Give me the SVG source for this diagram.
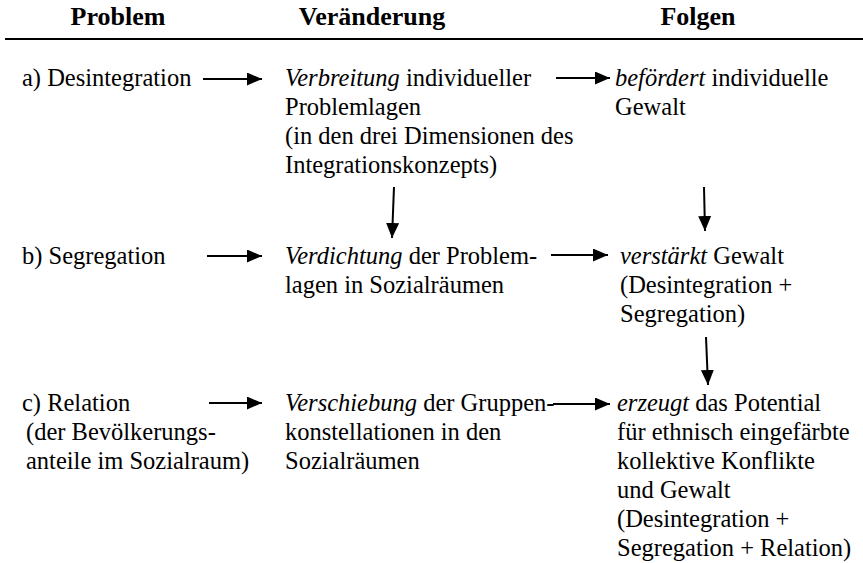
<svg xmlns="http://www.w3.org/2000/svg" width="863" height="563" viewBox="0 0 863 563">
<style>
text{font-family:"Liberation Serif","Times New Roman",serif;font-size:24.5px;fill:#000}
.h{font-weight:bold;font-size:26px;text-anchor:middle}
.i{font-style:italic}
.c line{stroke:#000;stroke-width:2;marker-end:url(#ah)}
</style>
<defs>
<marker id="ah" markerUnits="userSpaceOnUse" markerWidth="16" markerHeight="14" refX="15" refY="6.5" orient="auto">
<path d="M0,0 L15,6.5 L0,13 z" fill="#000"/>
</marker>
</defs>
<rect width="863" height="563" fill="#fff"/>
<g id="header">
<text class="h" x="118" y="25">Problem</text>
<text class="h" x="372" y="25">Veränderung</text>
<text class="h" x="698" y="25">Folgen</text>
<line x1="5" y1="39" x2="863" y2="39" stroke="#000" stroke-width="2"/>
</g>
<g id="p_a"><text x="22" y="86">a) Desintegration</text></g>
<g id="p_b"><text x="22" y="264">b) Segregation</text></g>
<g id="p_c"><text x="22" y="411">c) Relation</text><text x="26" y="440">(der Bevölkerungs-</text><text x="26" y="469">anteile im Sozialraum)</text></g>
<g id="v_a"><text x="285" y="86"><tspan class="i">Verbreitung</tspan> individueller</text><text x="285" y="115">Problemlagen</text><text x="285" y="144">(in den drei Dimensionen des</text><text x="285" y="173">Integrationskonzepts)</text></g>
<g id="v_b"><text x="285" y="264"><tspan class="i">Verdichtung</tspan> der Problem-</text><text x="285" y="293">lagen in Sozialräumen</text></g>
<g id="v_c"><text x="285" y="411"><tspan class="i">Verschiebung</tspan> der Gruppen-</text><text x="285" y="440">konstellationen in den</text><text x="285" y="469">Sozialräumen</text></g>
<g id="f_a"><text x="615" y="86"><tspan class="i">befördert</tspan> individuelle</text><text x="615" y="115">Gewalt</text></g>
<g id="f_b"><text x="620" y="264"><tspan class="i">verstärkt</tspan> Gewalt</text><text x="620" y="293">(Desintegration +</text><text x="620" y="322">Segregation)</text></g>
<g id="f_c"><text x="617" y="411"><tspan class="i">erzeugt</tspan> das Potential</text><text x="617" y="440">für ethnisch eingefärbte</text><text x="617" y="469">kollektive Konflikte</text><text x="617" y="498">und Gewalt</text><text x="617" y="527">(Desintegration +</text><text x="617" y="556">Segregation + Relation)</text></g>
<g id="connectors" class="c">
<line x1="203" y1="79" x2="262" y2="79"/>
<line x1="556" y1="78" x2="610" y2="78"/>
<line x1="207" y1="256" x2="262" y2="256"/>
<line x1="551" y1="255" x2="608" y2="255"/>
<line x1="209" y1="403" x2="262" y2="403"/>
<line x1="553" y1="404" x2="610" y2="404"/>
<line x1="394" y1="187" x2="392" y2="238"/>
<line x1="704" y1="187" x2="705" y2="231"/>
<line x1="706" y1="337" x2="708" y2="385"/>
</g>
</svg>
